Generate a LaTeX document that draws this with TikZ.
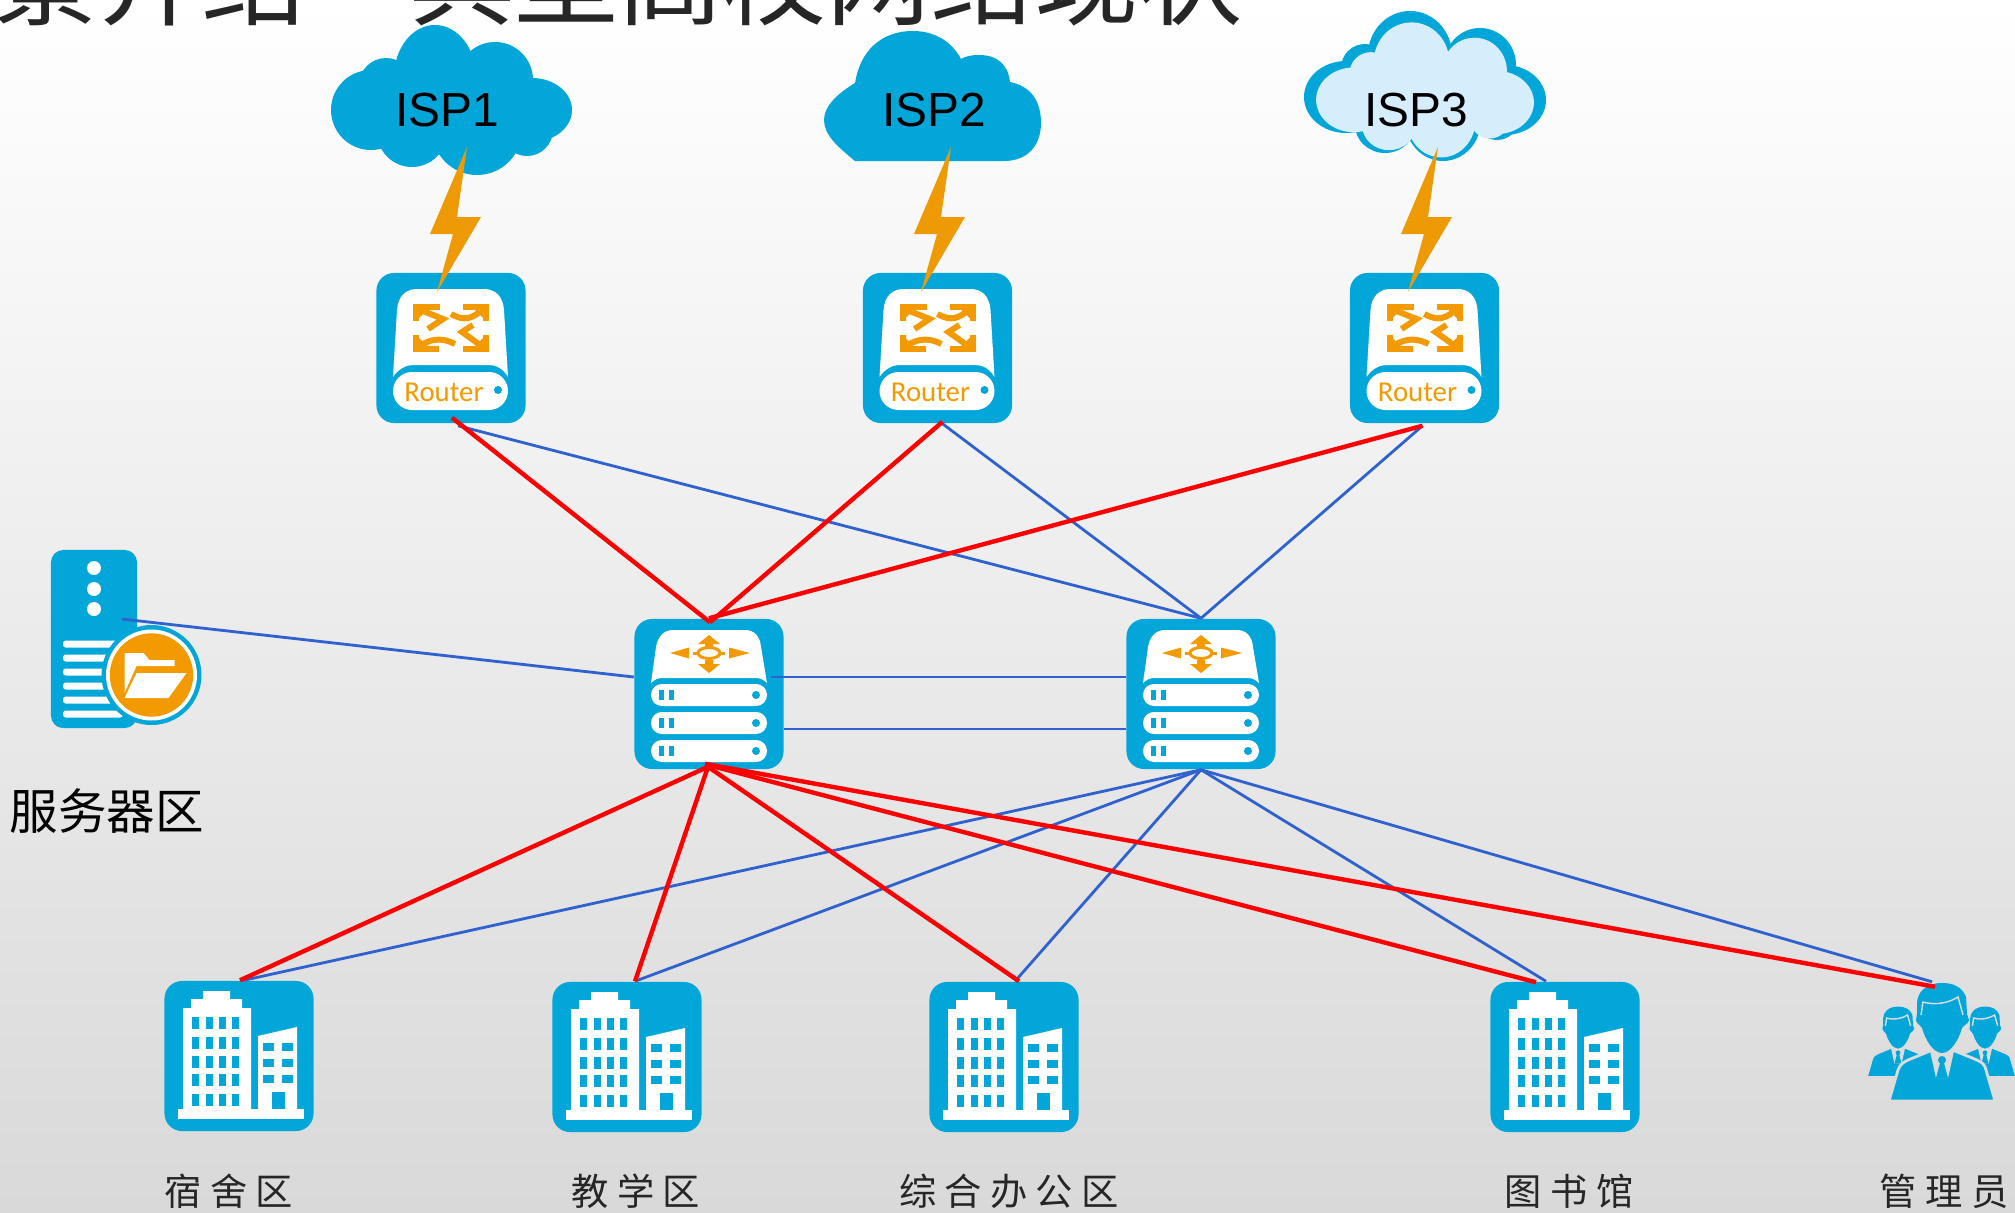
\documentclass[tikz,border=0pt]{standalone}
\usepackage{fontspec}
\setmainfont{Liberation Sans}
\newfontfamily\cjk{Noto Sans CJK SC}
\newfontfamily\rtfont{Carlito}
\usetikzlibrary{arrows.meta, calc}
\definecolor{iconblue}{HTML}{03A6D9}
\definecolor{iconorange}{HTML}{F29A00}
\definecolor{boltorange}{HTML}{EE9A04}
\definecolor{cloudpale}{HTML}{D6EEFC}
\definecolor{linkblue}{HTML}{2F62CE}
\definecolor{linkred}{HTML}{FF0000}
\definecolor{bgface}{HTML}{DCDCDC}
\definecolor{bglow}{HTML}{D9D9D9}
\definecolor{inktext}{HTML}{262626}
\newcommand{\cloudonelobes}{435/77/41/52, 495/80/38/38, 532/110/40/32, 527/130/26/26, 477/130/45/45, 412/132/35/35, 371/110/40/40, 386/85/27/27, 445/105/60/50}
\newcommand{\cloudthreelobes}{-15/-40/42/44, 55/-30/36/37, 80/5/41/35, 72/23/22/22, 18/25/38/41, -40/30/30/28, -79/2/42/36, -60/-27/24/24, 0/0/65/45}
\tikzset{%
    box/.style={rectangle, fill=iconblue, rounded corners=5pt, minimum width=1.49cm, minimum height=1.5cm, inner sep=0pt},
    lnkb/.style={line width=0.8pt, linkblue},
    lnkr/.style={line width=1.25pt, linkred},
    blab/.style={inner sep=0pt, inktext, font=\cjk\fontsize{10.6}{12}\selectfont},
    ispt/.style={inner sep=0pt, anchor=base, font=\fontsize{13.6}{15}\selectfont},
    arw/.style={line width=1.7pt, iconorange},
    pics/boltmark/.style={code={
        \fill[boltorange] (16,-201) -- (6,-131) -- (30,-131) -- (-14,-56) -- (2,-114) -- (-21,-114) -- cycle;
    }},
    pics/routericon/.style={code={
        \fill[white] (-58,29) -- (-54,-38) .. controls (-53,-52) and (-45,-59) .. (-34,-59) -- (33,-59) .. controls (44,-59) and (52,-52) .. (53,-38) -- (57,29) .. controls (52,20) and (44,17) .. (38,17) -- (-38,17) .. controls (-44,17) and (-52,20) .. (-58,29) -- cycle;
        \fill[white, rounded corners=5.4pt] (-58,24) rectangle (57,62);
        \fill[iconblue] (47,42) circle (4);
        \node[iconorange, inner sep=0pt, anchor=base, font=\rtfont\fontsize{8.2}{9}\selectfont] (-txt) at (-7,53) {Router};
        \draw[arw] (-11,-41) -- (-35,-41) -- (-35,-27);
        \fill[iconorange] (-35,-41) -- (-21,-41) -- (-35,-27) -- cycle;
        \draw[arw] (-33,-39) -- (-8,-29) -- (-23,-19);
        \draw[arw] (12,-41) -- (35,-41) -- (35,-27);
        \fill[iconorange] (35,-41) -- (21,-41) -- (35,-27) -- cycle;
        \draw[arw] (32,-39) .. controls (22,-30) and (14,-26) .. (0,-34);
        \draw[arw] (-12,1) -- (-35,1) -- (-35,-13);
        \fill[iconorange] (-35,1) -- (-21,1) -- (-35,-13) -- cycle;
        \draw[arw] (-33,-1) .. controls (-22,-8) and (-12,-12) .. (4,-4);
        \draw[arw] (12,1) -- (35,1) -- (35,-13);
        \fill[iconorange] (35,1) -- (21,1) -- (35,-13) -- cycle;
        \draw[arw] (32,-1) -- (11,-16) -- (22,-23);
    }},
    pics/coreicon/.style={code={
        \fill[white] (-58,-11) -- (-53,-47) .. controls (-51,-58) and (-45,-64) .. (-36,-64) -- (36,-64) .. controls (45,-64) and (51,-58) .. (52,-47) -- (58,-11) .. controls (54,-15) and (50,-16) .. (47,-16) -- (-47,-16) .. controls (-50,-16) and (-54,-15) .. (-58,-11) -- cycle;
        \foreach \py in {-10,18,46} {
            \fill[white, rounded corners=3.1pt] (-58,\py) rectangle (58,\py+22);
            \fill[iconblue] (-50,\py+6) rectangle ++(5,10);
            \fill[iconblue] (-40,\py+6) rectangle ++(5,10);
            \fill[iconblue] (47,\py+11) circle (4);
        }
        \draw[iconorange, line width=0.85pt] (0,-41) ellipse [x radius=11, y radius=5.5];
        \draw[iconorange, line width=0.85pt] (-16,-41) -- (-11,-41) (11,-41) -- (16,-41);
        \fill[iconorange] (0,-59) -- (11,-50) -- (4,-50) -- (4,-47) -- (-4,-47) -- (-4,-50) -- (-11,-50) -- cycle;
        \fill[iconorange] (0,-21) -- (11,-30) -- (4,-30) -- (4,-34) -- (-4,-34) -- (-4,-30) -- (-11,-30) -- cycle;
        \fill[iconorange] (-39,-41) -- (-20,-46.5) -- (-20,-35.5) -- cycle;
        \fill[iconorange] (41,-41) -- (20,-46.5) -- (20,-35.5) -- cycle;
    }},
    pics/bldgicon/.style={code={
        \fill[white] (-61,53) rectangle (65,63);
        \fill[white] (-56,53) -- (-56,-48) -- (-48,-48) -- (-48,-57) -- (-36,-57) -- (-36,-65) -- (-9,-65) -- (-9,-57) -- (3,-57) -- (3,-48) -- (12,-48) -- (12,53) -- cycle;
        \fill[white] (19,-20) -- (58,-29) -- (58,53) -- (19,53) -- cycle;
        \foreach \wx in {-47,-33,-20,-7}
            \foreach \wy in {-39,-19,0,18,38}
                \fill[iconblue] (\wx,\wy) rectangle ++(7,12);
        \foreach \wx in {24,43}
            \foreach \wy in {-13,3,19}
                \fill[iconblue] (\wx,\wy) rectangle ++(11,8);
        \fill[iconblue] (33,36) rectangle (46,53);
    }},
    pics/servericon/.style={code={
        \foreach \dy in {-71,-50,-30}
            \fill[white] (0,\dy) circle (7);
        \foreach \by in {5,19,33,47,61,75}
            \fill[white, rounded corners=0.8pt] (-31,\by-3.5) rectangle (29,\by+3.5);
        \fill[iconblue] (57.5,36) circle (50);
        \fill[white] (57.5,36) circle (45.5);
        \fill[iconorange] (57.5,36) circle (41.7);
        \begin{scope}[shift={(57.5,36)}]
            \fill[white] (-27,-22) -- (-8,-22) -- (-2,-15) -- (23,-15) -- (23,-9) -- (-15,-9) -- (-27,18) -- cycle;
            \fill[white] (-15,-2) -- (35,-2) -- (17,23) -- (-27,23) -- cycle;
        \end{scope}
    }},
    pics/personicon/.style={code={
        \fill[iconblue, draw=bgface, line width=0.8pt] (-53,59) -- (-44,28) .. controls (-42,22) and (-38,20) .. (-34,18) -- (-12,9) -- (13,9) -- (35,18) .. controls (39,20) and (43,22) .. (44,28) -- (53,59) -- cycle;
        \fill[bgface] (-12,9) -- (12,9) -- (6,36) -- (-6,36) -- cycle;
        \fill[iconblue] (0,18) circle (4);
        \fill[iconblue] (-2,21) -- (2,21) -- (6,36) -- (-6,36) -- cycle;
        \fill[iconblue] (0,-59) .. controls (-16,-59) and (-25,-50) .. (-25,-38) -- (-25,-28) -- (-26,-22) .. controls (-26,-19) and (-22,-17) .. (-20,-14) .. controls (-17,-3) and (-9,11) .. (0,11) .. controls (9,11) and (17,-3) .. (20,-14) .. controls (22,-17) and (27,-19) .. (27,-22) -- (25,-28) -- (24,-45) .. controls (20,-55) and (12,-59) .. (0,-59) -- cycle;
        \draw[bgface, line width=0.4pt] (-21,-27) -- (-19,-40) .. controls (-5,-36) and (8,-40) .. (16,-45) -- (21,-27);
    }},
}
\begin{document}
\begin{tikzpicture}[x=0.01cm, y=-0.01cm]
    \useasboundingbox (0,0) rectangle (2015,1212);
    \clip (0,0) rectangle (2015,1212);
    \fill[top color=white, bottom color=bglow] (0,0) rectangle (2015,1212);
    \node[inktext, inner sep=0pt, anchor=base west, font=\cjk\fontsize{29.6}{32}\selectfont] (title) at (-7,18) {景介绍　典型高校网络现状};

    \foreach \cx/\cy/\rx/\ry in \cloudonelobes
        \fill[iconblue] (\cx,\cy) ellipse [x radius=\rx, y radius=\ry];
    \fill[iconblue] (855,161) .. controls (838,147) and (824,135) .. (824,120) .. controls (824,105) and (840,92) .. (855,83) .. controls (860,52) and (880,31) .. (913,31) .. controls (935,31) and (952,42) .. (961,59) .. controls (966,56) and (972,55) .. (979,55) .. controls (998,55) and (1008,65) .. (1010,82) .. controls (1030,86) and (1041,100) .. (1041,123) .. controls (1041,145) and (1028,161) .. (1004,161) -- cycle;
    \begin{scope}[shift={(1425,95)}]
        \foreach \cx/\cy/\rx/\ry in \cloudthreelobes
            \fill[iconblue] (\cx,\cy) ellipse [x radius=\rx, y radius=\ry];
    \end{scope}
    \begin{scope}[shift={(1425,98)}, scale=0.9]
        \foreach \cx/\cy/\rx/\ry in \cloudthreelobes
            \fill[cloudpale] (\cx,\cy) ellipse [x radius=\rx, y radius=\ry];
    \end{scope}
    \node[ispt] (isp1) at (447,126.5) {ISP1};
    \node[ispt] (isp2) at (934,126.5) {ISP2};
    \node[ispt] (isp3) at (1416,126.5) {ISP3};

    \node[box] (r1) at (451,348) {};
    \node[box] (r2) at (937.5,348) {};
    \node[box] (r3) at (1424.5,348) {};
    \node[box] (c1) at (709,694) {};
    \node[box] (c2) at (1201,694) {};
    \node[box] (b1) at (239,1056) {};
    \node[box] (b2) at (627,1057) {};
    \node[box] (b3) at (1004,1057) {};
    \node[box] (b4) at (1565,1057) {};
    \node[rectangle, fill=iconblue, rounded corners=3.5pt, minimum width=0.86cm, minimum height=1.78cm, inner sep=0pt] (srv) at (94,639) {};
    \node[rectangle, inner sep=0pt, minimum width=1.08cm, minimum height=1.19cm] (adm) at (1942,1042) {};

    \pic (r1i) at (r1.center) {routericon};
    \pic (r2i) at (r2.center) {routericon};
    \pic (r3i) at (r3.center) {routericon};
    \pic at (r1.center) {boltmark};
    \pic at (935,348) {boltmark};
    \pic at (1422,348) {boltmark};
    \pic at (c1.center) {coreicon};
    \pic at (c2.center) {coreicon};
    \pic at (b1.center) {bldgicon};
    \pic at (b2.center) {bldgicon};
    \pic at (b3.center) {bldgicon};
    \pic at (b4.center) {bldgicon};
    \pic at (srv.center) {servericon};
    \pic[scale=0.6] at (1898,1042) {personicon};
    \pic[scale=0.6] at (1985,1042) {personicon};
    \pic at (adm.center) {personicon};

    \draw[lnkb] ([shift={(7,2)}]r1.south) -- (c2.north);
    \draw[lnkb] ([shift={(5,0)}]r2.south) -- (c2.north);
    \draw[lnkb] ([shift={(-2,2)}]r3.south) -- (c2.north);
    \draw[lnkb] ([shift={(28,-20)}]srv.center) -- ([shift={(0,-17)}]c1.west);
    \draw[lnkb] ([shift={(-13,-17)}]c1.east) -- ([shift={(0,-17)}]c2.west);
    \draw[lnkb] ([shift={(0,35)}]c1.east) -- ([shift={(0,35)}]c2.west);
    \draw[lnkb] (c2.south) -- ([shift={(5,0)}]b1.north);
    \draw[lnkb] (c2.south) -- ([shift={(8,0)}]b2.north);
    \draw[lnkb] (c2.south) -- ([shift={(11,0)}]b3.north);
    \draw[lnkb] (c2.south) -- ([shift={(-19,0)}]b4.north);
    \draw[lnkb] (c2.south) -- ([shift={(-10,0)}]adm.north);

    \draw[lnkr] ([shift={(1,-6)}]r1.south) -- ([shift={(1,4)}]c1.north);
    \draw[lnkr] ([shift={(5,-2)}]r2.south) -- ([shift={(1,4)}]c1.north);
    \draw[lnkr] ([shift={(-2,2)}]r3.south) -- (c1.north);
    \draw[lnkr] ([shift={(-1,-3)}]c1.south) -- ([shift={(1,0)}]b1.north);
    \draw[lnkr] ([shift={(-1,-3)}]c1.south) -- ([shift={(8,0)}]b2.north);
    \draw[lnkr] ([shift={(-1,-3)}]c1.south) -- ([shift={(15,0)}]b3.north);
    \draw[lnkr] ([shift={(-2,-5)}]c1.south) -- ([shift={(-29,1)}]b4.north);
    \draw[lnkr] ([shift={(-4,-6)}]c1.south) -- ([shift={(-7,5)}]adm.north);

    \node[inner sep=0pt, font=\cjk\fontsize{13.8}{15}\selectfont] (srvlab) at (107,811) {服务器区};
    \node[blab] (lab1) at (229,1191) {宿 舍 区};
    \node[blab] (lab2) at (636,1191) {教 学 区};
    \node[blab] (lab3) at (1009,1191) {综 合 办 公 区};
    \node[blab] (lab4) at (1569,1191) {图 书 馆};
    \node[blab] (lab5) at (1944,1191) {管 理 员};
\end{tikzpicture}
\end{document}
